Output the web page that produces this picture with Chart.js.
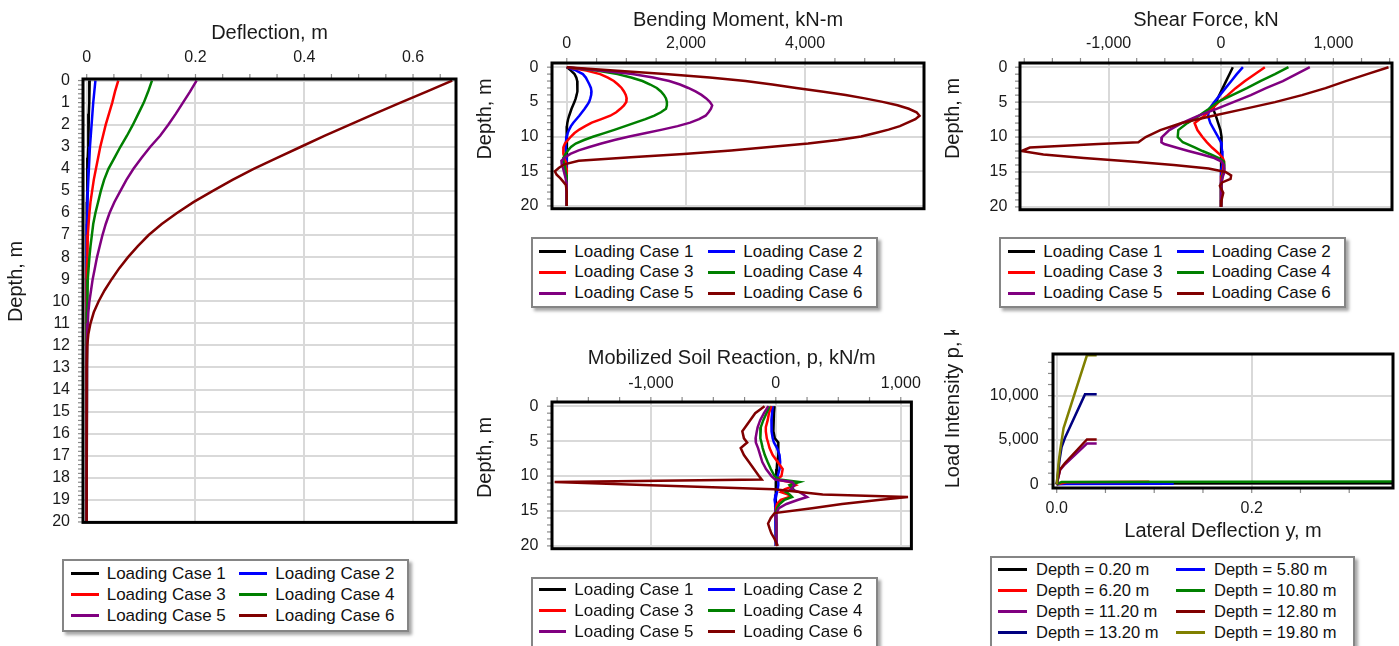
<!DOCTYPE html>
<html>
<head>
<meta charset="utf-8">
<script src="https://cdn.jsdelivr.net/npm/chart.js@4"></script>
<style>
  html, body { margin: 0; padding: 0; background: #fff; }
  body { width: 1399px; height: 646px; position: relative; overflow: hidden; font-family: "Liberation Sans", Arial, sans-serif; }
  .panel { position: absolute; }
  .panel canvas { display: block; }
  .legend { position: absolute; box-sizing: border-box; border: 2px solid #858585; background: #fff;
            box-shadow: 3px 3px 3px rgba(0,0,0,0.35); }
  .legend .item { position: absolute; display: flex; align-items: center; white-space: nowrap; color: #111; }
  .legend .swatch { display: inline-block; height: 3px; }
</style>
</head>
<body>
<div class="panel" style="left:0;top:0"><canvas id="cDefl" width="470" height="545"></canvas></div>
<div class="panel" style="left:460px;top:0"><canvas id="cMom" width="470" height="232"></canvas></div>
<div class="panel" style="left:930px;top:0"><canvas id="cShear" width="469" height="232"></canvas></div>
<div class="panel" style="left:460px;top:340px"><canvas id="cSoil" width="470" height="232"></canvas></div>
<div class="panel" style="left:930px;top:330px"><canvas id="cPy" width="469" height="218"></canvas></div>

<div class="legend" id="lgDefl"></div>
<div class="legend" id="lgMom"></div>
<div class="legend" id="lgShear"></div>
<div class="legend" id="lgSoil"></div>
<div class="legend" id="lgPy"></div>

<script>
// ===== Series names / colours
const caseLabels = ['Loading Case 1', 'Loading Case 2', 'Loading Case 3', 'Loading Case 4', 'Loading Case 5', 'Loading Case 6'];
const caseColors = ['#000000', '#0000ff', '#ff0000', '#008000', '#800080', '#800000'];

// ===== Tick labels
const depthTicksFine = [0,1,2,3,4,5,6,7,8,9,10,11,12,13,14,15,16,17,18,19,20];
const depthTicks = [0, 5, 10, 15, 20];
const deflTicks = [0, 0.2, 0.4, 0.6];
const momTicks = [0, 2000, 4000];
const shearTicks = [-1000, 0, 1000];
const soilTicks = [-1000, 0, 1000];
const pyDeflTicks = [0, 0.2];
const pyLoadTicks = [0, 5000, 10000];

// ===== Deflection, m (vs depth)
const deflDepth = [0,0.5,1,1.5,2,2.5,3,3.5,4,4.5,5,5.5,6,6.5,7,7.5,8,8.5,9,9.5,10,10.5,11,11.5,12,13,14,15,16,17,18,19,20];
const deflCase1 = [0.0055,0.005,0.0045,0.004,0.0035,0.003,0.0025,0.002,0.0015,0.001,0.0008,0.0005,0,0,0,0,0,0,0,0,0,0,0,0,0,0,0,0,0,0,0,0,0];
const deflCase2 = [0.016,0.014,0.012,0.0105,0.009,0.0075,0.006,0.005,0.004,0.003,0.002,0.0015,0.001,0.0005,0,0,0,0,0,0,0,0,0,0,0,0,0,0,0,0,0,0,0];
const deflCase3 = [0.058,0.052,0.047,0.041,0.035,0.030,0.025,0.021,0.017,0.013,0.010,0.007,0.005,0.0035,0.002,0.0015,0.001,0.0005,0,0,0,0,0,0,0,0,0,0,0,0,0,0,0];
const deflCase4 = [0.120,0.113,0.105,0.095,0.085,0.074,0.062,0.051,0.040,0.032,0.026,0.021,0.016,0.012,0.0095,0.007,0.005,0.0035,0.002,0.0015,0.001,0.0005,0,0,0,0,0,0,0,0,0,0,0];
const deflCase5 = [0.202,0.190,0.177,0.164,0.150,0.135,0.117,0.101,0.086,0.073,0.062,0.051,0.042,0.035,0.029,0.024,0.019,0.015,0.011,0.008,0.005,0.003,0.002,0.001,0.0005,0,0,0,0,0,0,0,0];
const deflCase6 = [0.672,0.625,0.577,0.530,0.484,0.438,0.394,0.350,0.307,0.268,0.232,0.197,0.166,0.138,0.114,0.094,0.076,0.060,0.046,0.033,0.022,0.013,0.007,0.003,0.001,0,0,0,0,0,0,0,0];

// ===== Bending Moment, kN-m
const momDepth = [0,0.5,1,1.5,2,2.5,3,3.5,4,4.5,5,5.5,6,6.5,7,7.5,8,8.5,9,9.5,10,10.5,11,11.5,12,12.5,13,13.5,14,14.5,15,15.5,16,16.5,17,18,19,20];
const momCase1 = [0,70,130,160,175,180,180,175,165,150,130,105,80,60,40,22,10,3,0,-3,-5,-5,-5,-5,-5,-3,0,0,0,0,0,0,0,0,0,0,0,0];
const momCase2 = [0,160,270,320,350,380,405,415,410,395,375,340,300,255,210,160,110,70,40,15,0,-10,-20,-22,-20,-15,-10,-5,0,0,0,0,0,0,0,0,0,0];
const momCase3 = [0,330,560,690,790,860,920,960,990,1005,1000,960,900,830,730,580,420,310,210,130,70,20,-30,-55,-60,-55,-40,-28,-15,-8,0,0,0,0,0,0,0,0];
const momCase4 = [0,500,850,1080,1270,1400,1510,1580,1630,1665,1680,1680,1665,1580,1470,1320,1150,980,810,630,450,290,150,70,20,-20,-50,-60,-45,-30,-20,-10,-5,0,0,0,0,0];
const momCase5 = [0,600,1100,1450,1720,1900,2040,2160,2260,2340,2400,2440,2420,2380,2330,2220,2070,1860,1600,1330,1050,800,580,380,200,60,-30,-90,-85,-65,-50,-35,-20,-10,-5,0,0,0];
const momCase6 = [0,850,1650,2400,3000,3450,3850,4280,4680,5000,5300,5550,5740,5870,5920,5850,5720,5590,5400,5180,4940,4550,4050,3400,2760,1960,1075,200,-40,-130,-200,-170,-110,-60,-15,0,0,0];

// ===== Shear Force, kN
const shearDepth = [0,1,2,3,4,5,6,7,8,9,10,10.75,11,11.5,12,12.5,13,13.5,14,14.5,15,15.5,16,16.5,17,18,19,20];
const shearCase1 = [105,75,45,15,-15,-45,-70,-45,-25,-5,5,5,5,3,0,0,0,0,0,0,0,0,0,0,0,0,0,0];
const shearCase2 = [195,140,90,40,-10,-60,-105,-115,-95,-60,-25,0,3,8,10,13,15,13,10,5,0,0,0,0,0,0,0,0];
const shearCase3 = [390,300,210,130,60,-20,-85,-150,-235,-210,-165,-125,-110,-80,-45,-10,15,28,25,20,15,8,0,0,0,0,0,0];
const shearCase4 = [600,480,350,230,100,-30,-110,-200,-300,-380,-385,-340,-300,-230,-165,-90,-20,25,30,28,25,15,10,5,0,0,0,0];
const shearCase5 = [790,670,550,400,265,110,-45,-210,-350,-460,-525,-530,-505,-400,-290,-170,-60,5,25,30,30,20,10,5,0,0,0,0];
const shearCase6 = [1490,1300,1110,930,720,480,200,-80,-350,-540,-670,-735,-1090,-1700,-1775,-1580,-1220,-800,-420,-110,40,90,85,10,-10,20,5,0];

// ===== Mobilized Soil Reaction, p, kN/m
const soilDepth = [0,1,2,3,3.6,4.6,5.2,6,7,8,9,10,10.5,10.85,11.3,11.9,12.3,12.65,13,13.4,14,14.6,15.3,16,16.8,17.5,18.2,19,20];
const soilCase1 = [-10,-15,-20,-20,-18,-8,20,22,18,12,8,5,3,0,0,0,0,0,0,0,0,0,0,0,0,0,0,0,0];
const soilCase2 = [-25,-30,-35,-35,-33,-25,-15,10,30,35,30,15,15,20,20,15,10,0,-5,-10,-5,0,0,0,0,0,0,0,0];
const soilCase3 = [-35,-55,-65,-80,-80,-72,-62,-50,-25,15,55,45,10,110,160,70,40,100,110,40,10,0,0,0,5,5,5,5,5];
const soilCase4 = [-50,-75,-100,-120,-125,-122,-115,-105,-88,-65,-40,-10,30,190,110,140,80,110,130,70,30,10,0,5,5,5,5,5,10];
const soilCase5 = [-60,-95,-125,-145,-152,-162,-160,-142,-125,-108,-78,-35,-5,130,150,120,190,220,250,180,85,25,5,3,3,5,8,8,10];
const soilCase6 = [-90,-165,-205,-245,-268,-255,-229,-281,-255,-215,-175,-135,-113,-1770,-1000,-15,190,375,1058,839,530,290,-10,-40,-62,-50,-36,-10,15];

// ===== p-y curves: Lateral Deflection y, m / Load Intensity p
const pyLabels = ['Depth = 0.20 m', 'Depth = 5.80 m', 'Depth = 6.20 m', 'Depth = 10.80 m',
                  'Depth = 11.20 m', 'Depth = 12.80 m', 'Depth = 13.20 m', 'Depth = 19.80 m'];
const pyColors = ['#000000', '#0000ff', '#ff0000', '#008000', '#800080', '#800000', '#000080', '#808000'];
const pyDefl0_20 = [0, 0.005, 0.3449];   const pyLoad0_20 = [0, 80, 120];
const pyDefl5_80 = [0, 0.01, 0.12];      const pyLoad5_80 = [0, 40, 60];
const pyDefl6_20 = [0, 0.01, 0.095];     const pyLoad6_20 = [0, 230, 290];
const pyDefl10_80 = [0, 0.005, 0.3449];  const pyLoad10_80 = [0, 260, 300];
const pyDefl11_20 = [0, 0.0035, 0.0085, 0.031, 0.041];        const pyLoad11_20 = [0, 1600, 2250, 4600, 4600];
const pyDefl12_80 = [0, 0.0035, 0.0085, 0.031, 0.041];        const pyLoad12_80 = [0, 1700, 2400, 5050, 5050];
const pyDefl13_20 = [0, 0.003, 0.005, 0.0085, 0.029, 0.041];  const pyLoad13_20 = [0, 2800, 4200, 5250, 10140, 10140];
const pyDefl19_80 = [0, 0.002, 0.0035, 0.007, 0.031, 0.041];  const pyLoad19_80 = [0, 2500, 3800, 6300, 14550, 14550];

// ===== Defaults
Chart.defaults.font.family = '"Liberation Sans", Arial, sans-serif';
Chart.defaults.color = '#1a1a1a';
const TICK_FONT = { size: 16 };
const TITLE_FONT = { size: 20 };
const GRID = { color: '#d9d9d9', lineWidth: 2, drawTicks: false };
const fixedTicks = (values) => (s) => { s.ticks = values.map(v => ({ value: v })); };

// frame + minor tick marks
const framePlugin = {
    id: 'frame',
    afterDraw(chart, args, opts) {
        const { ctx, chartArea: a, scales: { x, y } } = chart;
        ctx.save();
        ctx.strokeStyle = '#8a8a8a';
        ctx.lineWidth = 1.2;
        const xTop = x.options.position === 'top';
        const xe = xTop ? a.top : a.bottom, dir = xTop ? -1 : 1;
        for (let i = Math.ceil(x.min / opts.xStep); i * opts.xStep <= x.max; i++) {
            const px = x.getPixelForValue(i * opts.xStep);
            ctx.beginPath(); ctx.moveTo(px, xe); ctx.lineTo(px, xe + dir * 5); ctx.stroke();
        }
        for (let i = Math.ceil(y.min / opts.yStep); i * opts.yStep <= y.max; i++) {
            const py = y.getPixelForValue(i * opts.yStep);
            ctx.beginPath(); ctx.moveTo(a.left, py); ctx.lineTo(a.left - 5, py); ctx.stroke();
        }
        ctx.strokeStyle = '#000';
        ctx.lineWidth = 3;
        ctx.strokeRect(a.left, a.top, a.right - a.left, a.bottom - a.top);
        ctx.restore();
    }
};

// y-axis title placed where the reference has it (not centred on the plot)
const sideTitlePlugin = {
    id: 'sideTitle',
    afterDraw(chart, args, opts) {
        if (!opts.text) return;
        const ctx = chart.ctx;
        ctx.save();
        ctx.translate(opts.x, opts.y);
        ctx.rotate(-Math.PI / 2);
        ctx.font = '20px "Liberation Sans", Arial, sans-serif';
        ctx.fillStyle = '#1a1a1a';
        ctx.textAlign = opts.align || 'center';
        ctx.textBaseline = 'middle';
        ctx.fillText(opts.text, 0, 0);
        ctx.restore();
    }
};

function lineSet(label, color, xs, ys, i) {
    return {
        label, borderColor: color, backgroundColor: color,
        data: xs.map((v, k) => ({ x: v, y: ys[k] })),
        borderWidth: 2.5, pointRadius: 0, tension: 0, fill: false, order: 20 - i
    };
}

function profileChart(id, depths, series, cfg) {
    const datasets = series.map((vals, i) => lineSet(caseLabels[i], caseColors[i], vals, depths, i));
    return new Chart(document.getElementById(id), {
        type: 'line',
        data: { datasets },
        plugins: [framePlugin, sideTitlePlugin],
        options: {
            responsive: false, animation: false, devicePixelRatio: 1,
            layout: { padding: { left: 0, top: 0, right: cfg.padRight, bottom: cfg.padBottom } },
            plugins: {
                legend: { display: false }, tooltip: { enabled: false },
                frame: { xStep: cfg.xMinor, yStep: cfg.yMinor },
                sideTitle: { text: 'Depth, m', x: cfg.yTitleX, y: cfg.yTitleY }
            },
            scales: {
                x: {
                    type: 'linear', position: 'top', min: cfg.xMin, max: cfg.xMax,
                    afterFit: s => { s.height = cfg.topH; },
                    afterBuildTicks: fixedTicks(cfg.xTicks),
                    grid: GRID, border: { display: false },
                    ticks: { font: TICK_FONT, padding: cfg.xTickPad, maxRotation: 0, autoSkip: false },
                    title: { display: true, text: cfg.title, font: TITLE_FONT, padding: { top: cfg.titlePad, bottom: 0 } }
                },
                y: {
                    type: 'linear', reverse: true, min: cfg.yMin, max: cfg.yMax,
                    afterFit: s => { s.width = cfg.leftW; },
                    afterBuildTicks: fixedTicks(cfg.yTicks),
                    grid: GRID, border: { display: false },
                    ticks: { font: TICK_FONT, padding: cfg.yTickPad, autoSkip: false }
                }
            }
        }
    });
}

function buildLegend(id, chart, box) {
    const el = document.getElementById(id);
    Object.assign(el.style, { left: box.left + 'px', top: box.top + 'px', width: box.width + 'px', height: box.height + 'px' });
    chart.data.datasets.forEach((ds, i) => {
        const row = Math.floor(i / 2), col = i % 2;
        const item = document.createElement('div');
        item.className = 'item';
        item.style.left = (box.padX + col * box.colW) + 'px';
        item.style.top = (box.padY + row * box.rowH) + 'px';
        item.style.height = box.rowH + 'px';
        item.style.fontSize = box.font + 'px';
        item.innerHTML = `<span class="swatch" style="background:${ds.borderColor};width:${box.swatch}px;margin-right:${box.gap}px"></span><span>${ds.label}</span>`;
        el.appendChild(item);
    });
}

// ===== Charts
const chDefl = profileChart('cDefl', deflDepth, [deflCase1, deflCase2, deflCase3, deflCase4, deflCase5, deflCase6], {
    title: 'Deflection, m', xMin: -0.0068, xMax: 0.679, xTicks: deflTicks, xMinor: 0.05,
    yMin: -0.07, yMax: 20.02, yTicks: depthTicksFine, yMinor: 0.2,
    topH: 79, leftW: 83, padRight: 14, padBottom: 7, xTickPad: 11.4, yTickPad: 13, titlePad: 21,
    yTitleX: 16.7, yTitleY: 281.5
});
const chMom = profileChart('cMom', momDepth, [momCase1, momCase2, momCase3, momCase4, momCase5, momCase6], {
    title: 'Bending Moment, kN-m', xMin: -248, xMax: 5995, xTicks: momTicks, xMinor: 500,
    yMin: -0.6, yMax: 20.4, yTicks: depthTicks, yMinor: 1,
    topH: 63, leftW: 92, padRight: 6, padBottom: 5, xTickPad: 10, yTickPad: 13.7, titlePad: 8,
    yTitleX: 25, yTitleY: 119
});
const chShear = profileChart('cShear', shearDepth, [shearCase1, shearCase2, shearCase3, shearCase4, shearCase5, shearCase6], {
    title: 'Shear Force, kN', xMin: -1788, xMax: 1521, xTicks: shearTicks, xMinor: 250,
    yMin: -0.6, yMax: 20.4, yTicks: depthTicks, yMinor: 1,
    topH: 63, leftW: 90, padRight: 7, padBottom: 5, xTickPad: 10, yTickPad: 12.7, titlePad: 8,
    yTitleX: 23.3, yTitleY: 118.5
});
const chSoil = profileChart('cSoil', soilDepth, [soilCase1, soilCase2, soilCase3, soilCase4, soilCase5, soilCase6], {
    title: 'Mobilized Soil Reaction, p, kN/m', xMin: -1791, xMax: 1085, xTicks: soilTicks, xMinor: 250,
    yMin: -0.6, yMax: 20.4, yTicks: depthTicks, yMinor: 1,
    topH: 62, leftW: 92, padRight: 7, padBottom: 6, xTickPad: 9, yTickPad: 13.7, titlePad: 6.3,
    yTitleX: 25, yTitleY: 117.5
});

// p-y curves
const pyDefl = [pyDefl0_20, pyDefl5_80, pyDefl6_20, pyDefl10_80, pyDefl11_20, pyDefl12_80, pyDefl13_20, pyDefl19_80];
const pyLoad = [pyLoad0_20, pyLoad5_80, pyLoad6_20, pyLoad10_80, pyLoad11_20, pyLoad12_80, pyLoad13_20, pyLoad19_80];
const chPy = new Chart(document.getElementById('cPy'), {
    type: 'line',
    data: { datasets: pyDefl.map((xs, i) => lineSet(pyLabels[i], pyColors[i], xs, pyLoad[i], i)) },
    plugins: [framePlugin, sideTitlePlugin],
    options: {
        responsive: false, animation: false, devicePixelRatio: 1,
        layout: { padding: { left: 0, top: 15, right: 6, bottom: 0 } },
        plugins: {
            legend: { display: false }, tooltip: { enabled: false },
            frame: { xStep: 0.05, yStep: 1250 },
            sideTitle: { text: 'Load Intensity p, kN/m', x: 23.3, y: 158.3, align: 'left' }
        },
        scales: {
            x: {
                type: 'linear', position: 'bottom', min: -0.0038, max: 0.3449,
                afterFit: s => { s.height = 60; },
                afterBuildTicks: fixedTicks(pyDeflTicks),
                grid: GRID, border: { display: false },
                ticks: { font: TICK_FONT, padding: 10.7, maxRotation: 0, callback: v => v.toFixed(1) },
                title: { display: true, text: 'Lateral Deflection y, m', font: TITLE_FONT, padding: { top: 0, bottom: 4.3 } }
            },
            y: {
                type: 'linear', min: -423, max: 14693,
                afterFit: s => { s.width = 123; },
                afterBuildTicks: fixedTicks(pyLoadTicks),
                grid: GRID, border: { display: false },
                ticks: { font: TICK_FONT, padding: 14.4 }
            }
        }
    }
});

// ===== Legends
buildLegend('lgDefl', chDefl, { left: 62, top: 559, width: 347, height: 73, padX: 6.7, padY: 2.6, colW: 168.6, rowH: 20.8, swatch: 28, gap: 8, font: 17 });
buildLegend('lgMom', chMom, { left: 531, top: 237, width: 347, height: 71, padX: 6.3, padY: 2.2, colW: 169, rowH: 20.8, swatch: 27, gap: 8, font: 17 });
buildLegend('lgShear', chShear, { left: 999, top: 237, width: 347, height: 71, padX: 7.3, padY: 2.2, colW: 168.4, rowH: 20.8, swatch: 27, gap: 8, font: 17 });
buildLegend('lgSoil', chSoil, { left: 531, top: 577, width: 347, height: 73, padX: 6.3, padY: 0.6, colW: 169, rowH: 20.8, swatch: 27, gap: 8, font: 17 });
buildLegend('lgPy', chPy, { left: 990, top: 556, width: 365, height: 95, padX: 6, padY: 0.8, colW: 178, rowH: 21, swatch: 29, gap: 9, font: 16.5 });
</script>
</body>
</html>
